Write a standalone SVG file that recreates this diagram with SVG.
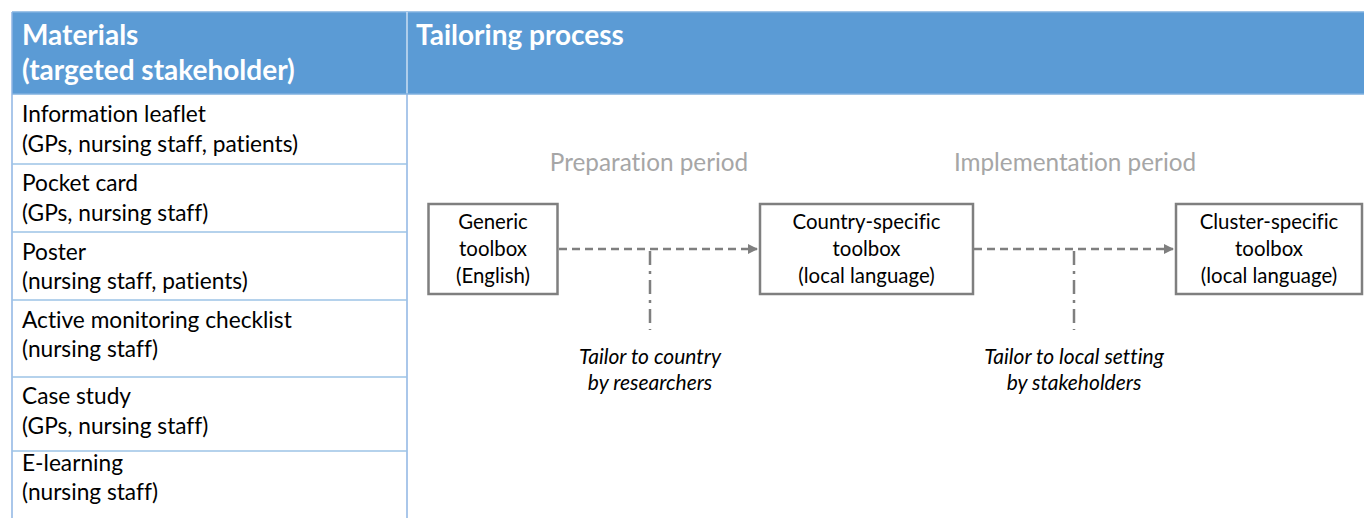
<svg xmlns="http://www.w3.org/2000/svg" width="1364" height="518" viewBox="0 0 1364 518">
<defs>
<style>
text{font-variant-ligatures:none;font-feature-settings:"liga" 0,"dlig" 0}
.hd{font-family:Lato,"Liberation Sans",sans-serif;font-weight:bold;font-size:28px;fill:#fff}
.row{font-family:Lato,"Liberation Sans",sans-serif;font-size:22.7px;fill:#000}
.per{font-family:Lato,"Liberation Sans",sans-serif;font-size:24.3px;fill:#a6a6a6;text-anchor:middle}
.bx{fill:#fff;stroke:#7f7f7f;stroke-width:2.5}
.bt{font-family:Lato,"Liberation Sans",sans-serif;font-size:20.4px;fill:#000;text-anchor:middle}
.it{font-family:Lato,"Liberation Sans",sans-serif;font-size:21px;font-style:italic;fill:#000;text-anchor:middle}
.sep{stroke:#9dc3e6;stroke-width:1.5}
.arr{stroke:#7f7f7f;stroke-width:2.5;fill:none;stroke-dasharray:8 5}
.dd{stroke:#7f7f7f;stroke-width:2.5;fill:none;stroke-dasharray:14 6 3 6}
</style>
<marker id="ah" viewBox="0 0 10 10" refX="9" refY="5" markerWidth="4" markerHeight="4" orient="auto" markerUnits="strokeWidth">
<path d="M0,0 L10,5 L0,10 z" fill="#7f7f7f"/>
</marker>
</defs>
<rect width="1364" height="518" fill="#fff"/>
<g id="table">
<rect x="12" y="12" width="1352" height="82" fill="#5b9bd5"/>
<line x1="12" y1="12" x2="1364" y2="12" stroke="#7fb0df" stroke-width="1.5"/>
<line x1="407" y1="12" x2="407" y2="94" stroke="#e8f0fa" stroke-width="1.2"/>
<line x1="12" y1="94" x2="1364" y2="94" stroke="#7fb0df" stroke-width="1.5"/>
<line x1="12" y1="12" x2="12" y2="518" stroke="#8eb4e3" stroke-width="1.5"/>
<line x1="407" y1="94" x2="407" y2="518" stroke="#8eb4e3" stroke-width="1.5"/>
<line class="sep" x1="12" y1="164" x2="407" y2="164"/>
<line class="sep" x1="12" y1="232" x2="407" y2="232"/>
<line class="sep" x1="12" y1="300" x2="407" y2="300"/>
<line class="sep" x1="12" y1="377" x2="407" y2="377"/>
<line class="sep" x1="12" y1="451" x2="407" y2="451"/>
<text class="hd" x="22" y="45">Materials</text>
<text class="hd" x="22" y="80">(targeted stakeholder)</text>
<text class="hd" x="416" y="45">Tailoring process</text>
</g>
<g id="materials">
<text class="row" x="22" y="122">Information leaflet</text>
<text class="row" x="22" y="152">(GPs, nursing staff, patients)</text>
<text class="row" x="22" y="191">Pocket card</text>
<text class="row" x="22" y="221">(GPs, nursing staff)</text>
<text class="row" x="22" y="260">Poster</text>
<text class="row" x="22" y="289">(nursing staff, patients)</text>
<text class="row" x="22" y="328">Active monitoring checklist</text>
<text class="row" x="22" y="357">(nursing staff)</text>
<text class="row" x="22" y="404">Case study</text>
<text class="row" x="22" y="434">(GPs, nursing staff)</text>
<text class="row" x="22" y="471">E-learning</text>
<text class="row" x="22" y="500">(nursing staff)</text>
</g>
<g id="periods">
<text class="per" x="649" y="171">Preparation period</text>
<text class="per" x="1075" y="171">Implementation period</text>
</g>
<g id="connectors">
<line class="arr" x1="559" y1="249" x2="757" y2="249" marker-end="url(#ah)"/>
<line class="dd" x1="650" y1="251" x2="650" y2="330"/>
<line class="arr" x1="974" y1="249" x2="1173" y2="249" marker-end="url(#ah)"/>
<line class="dd" x1="1074" y1="251" x2="1074" y2="330"/>
</g>
<g id="generic">
<rect class="bx" x="428.5" y="204" width="129" height="90"/>
<text class="bt" x="493" y="229">Generic</text>
<text class="bt" x="493" y="256">toolbox</text>
<text class="bt" x="493" y="283">(English)</text>
</g>
<g id="country">
<rect class="bx" x="760" y="204" width="213" height="90"/>
<text class="bt" x="866.5" y="229">Country-specific</text>
<text class="bt" x="866.5" y="256">toolbox</text>
<text class="bt" x="866.5" y="283">(local language)</text>
</g>
<g id="cluster">
<rect class="bx" x="1176" y="204" width="186" height="90"/>
<text class="bt" x="1269" y="229">Cluster-specific</text>
<text class="bt" x="1269" y="256">toolbox</text>
<text class="bt" x="1269" y="283">(local language)</text>
</g>
<g id="label-country">
<text class="it" x="650" y="364">Tailor to country</text>
<text class="it" x="650" y="390">by researchers</text>
</g>
<g id="label-local">
<text class="it" x="1074" y="364">Tailor to local setting</text>
<text class="it" x="1074" y="390">by stakeholders</text>
</g>
</svg>
